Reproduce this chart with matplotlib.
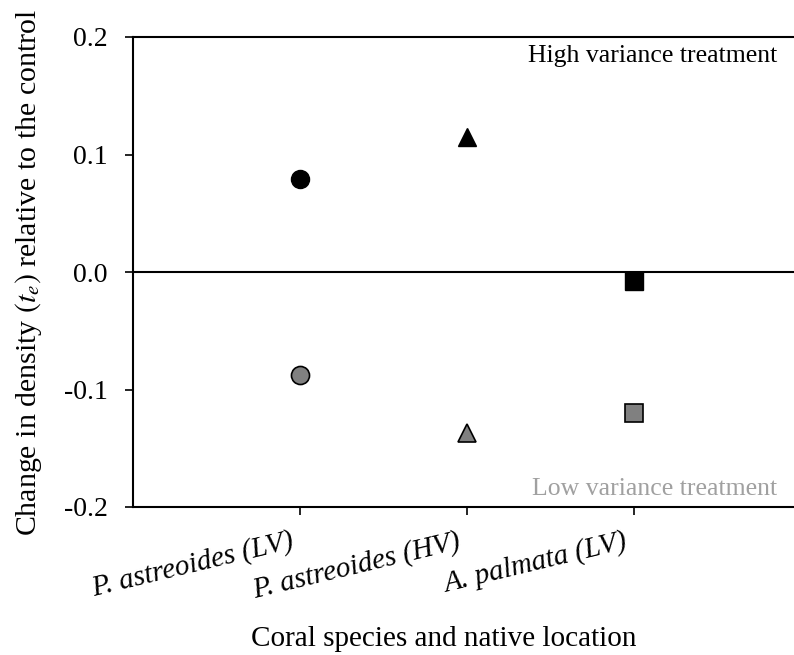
import matplotlib.pyplot as plt
import matplotlib.transforms as mtransforms

plt.rcParams['font.family'] = ['Liberation Serif', 'DejaVu Serif']
plt.rcParams['mathtext.fontset'] = 'stix'

# 数据
species = ['P. astreoides (LV)', 'P. astreoides (HV)', 'A. palmata (LV)']
markers = ['o', '^', 's']
high_var = [0.079, 0.115, -0.008]
low_var = [-0.088, -0.137, -0.120]
y_ticks = [-0.2, -0.1, 0.0, 0.1, 0.2]

fig = plt.figure(figsize=(7.94, 6.55), dpi=100)
ax = fig.add_axes([133 / 794, 1 - 507 / 655, (801 - 133) / 794, (507 - 37) / 655])

x = range(1, len(species) + 1)
for xi, m, hv, lv in zip(x, markers, high_var, low_var):
    ms = 12.5 if m == 's' else 13
    ax.plot(xi, hv, marker=m, color='black', markersize=ms,
            markeredgecolor='black', markeredgewidth=1, linestyle='none')
    ax.plot(xi, lv, marker=m, color='#808080', markersize=ms,
            markeredgecolor='black', markeredgewidth=1.2, linestyle='none')

ax.axhline(0, color='black', linewidth=1.5)

ax.set_xlim(0, 4)
ax.set_ylim(-0.2, 0.2)
ax.set_yticks(y_ticks)
ax.set_yticklabels(['%.1f' % v for v in y_ticks])
ax.set_xticks(list(x))
ax.set_xticklabels(species, style='italic', rotation=13.5, ha='right', va='top',
                   fontsize=21)
ax.tick_params(direction='out', length=6, width=1.2, labelsize=20, pad=12)
ax.tick_params(axis='x', pad=9, labelsize=21)
# 标签整体左移几个像素
offset = mtransforms.ScaledTranslation(-4 / 100, 0, fig.dpi_scale_trans)
for lbl in ax.get_xticklabels():
    lbl.set_transform(lbl.get_transform() + offset)

ax.spines['right'].set_visible(False)
for s in ['left', 'top', 'bottom']:
    ax.spines[s].set_linewidth(1.5)

ax.set_ylabel('Change in density $(t_e)$ relative to the control', fontsize=21.5)
ax.yaxis.set_label_coords((44 - 133) / 668, 0.5)
ax.set_xlabel('Coral species and native location', fontsize=21)
ax.xaxis.set_label_coords((444 - 133) / 668, (507 - 626) / 470)

ax.text(777, 655 - 62, 'High variance treatment', transform=None, ha='right',
        va='baseline', fontsize=18.5, color='black')
ax.text(777, 655 - 495, 'Low variance treatment', transform=None, ha='right',
        va='baseline', fontsize=18.5, color='#a0a0a0')

plt.savefig('out.png', dpi=100)
